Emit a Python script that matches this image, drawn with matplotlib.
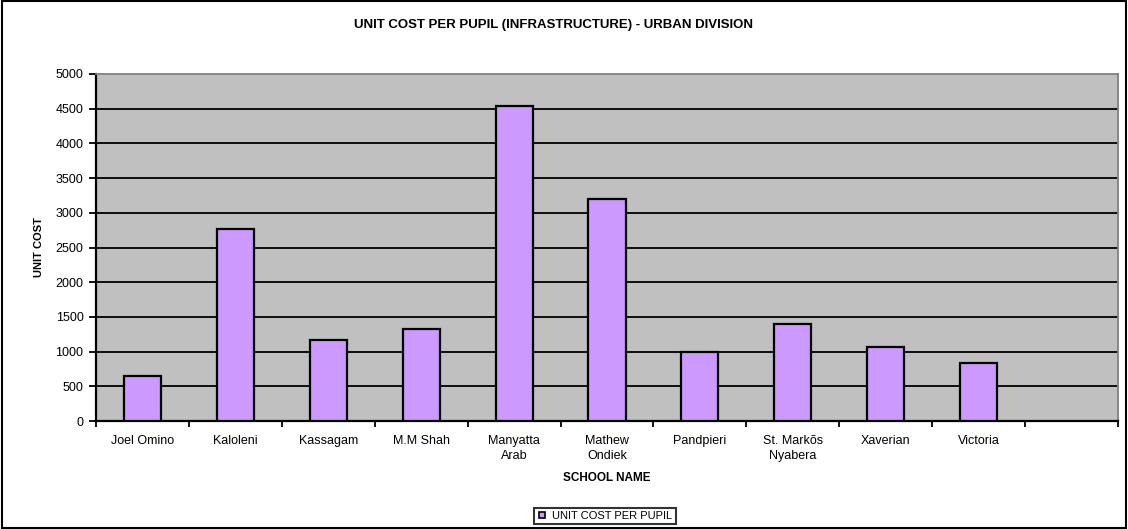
import matplotlib
matplotlib.use("Agg")
import matplotlib.pyplot as plt
import numpy as np
from matplotlib.lines import Line2D
from matplotlib.patches import Rectangle

plt.rcParams["font.family"] = ["Liberation Sans", "DejaVu Sans"]

schools = ["Joel Omino", "Kaloleni", "Kassagam", "M.M Shah", "Manyatta\nArab",
           "Mathew\nOndiek", "Pandpieri", "St. Markõs\nNyabera", "Xaverian",
           "Victoria", ""]
unit_cost = [650, 2760, 1165, 1330, 4540, 3200, 1000, 1400, 1070, 835, np.nan]
y_ticks = [0, 500, 1000, 1500, 2000, 2500, 3000, 3500, 4000, 4500, 5000]

BAR_COLOR = "#CC99FF"
BG_COLOR = "#C0C0C0"

fig = plt.figure(figsize=(11.28, 5.29), dpi=100)
ax = fig.add_axes([96 / 1128, 1 - 421 / 529, 1022 / 1128, 347 / 529])
ax.set_facecolor(BG_COLOR)

x = np.arange(len(schools))
ax.bar(x, unit_cost, width=0.4, color=BAR_COLOR, edgecolor="black",
       linewidth=1.6, zorder=3)

ax.set_xlim(-0.5, len(schools) - 0.5)
ax.set_ylim(0, 5000)
ax.set_yticks(y_ticks)
ax.set_yticklabels([str(v) for v in y_ticks], fontsize=9)
for v in y_ticks[1:-1]:
    ax.axhline(v, color="black", linewidth=1.3, zorder=1)

# category labels centred in each slot, tick marks on the slot edges
ax.set_xticks(x)
ax.set_xticklabels(schools, fontsize=9, linespacing=1.35)
ax.tick_params(axis="x", length=0, pad=10)
ax.set_xticks(np.arange(len(schools) + 1) - 0.5, minor=True)
ax.tick_params(axis="x", which="minor", length=4, width=1.3, direction="out")
ax.tick_params(axis="y", length=5, width=1.3, direction="out", pad=4)

for s in ["left", "bottom"]:
    ax.spines[s].set_linewidth(1.6)
    ax.spines[s].set_color("black")
for s in ["top", "right"]:
    ax.spines[s].set_linewidth(1.3)
    ax.spines[s].set_color("#808080")

ax.set_xlabel("SCHOOL NAME", fontsize=8.5, fontweight="bold", labelpad=7)
ax.set_ylabel("UNIT COST", fontsize=8, fontweight="bold", labelpad=8)

fig.text(553 / 1128, 1 - 25 / 529, "UNIT COST PER PUPIL (INFRASTRUCTURE) - URBAN DIVISION",
         ha="center", va="center", fontsize=9.5, fontweight="bold")

handle = Line2D([], [], marker="s", linestyle="none", markersize=4,
                markerfacecolor=BAR_COLOR, markeredgecolor="black",
                markeredgewidth=1.2)
leg = fig.legend([handle], ["UNIT COST PER PUPIL"], loc="center",
                 bbox_to_anchor=(605 / 1128, 1 - 516 / 529), fontsize=8,
                 frameon=True, fancybox=False, edgecolor="black",
                 handlelength=0.8, handletextpad=0.5, borderpad=0.3,
                 borderaxespad=0)
leg.get_frame().set_linewidth(1.5)

fig.patches.append(Rectangle((0.002, 0.002), 0.996, 0.996, transform=fig.transFigure,
                             fill=False, edgecolor="black", linewidth=1.5))

fig.savefig("out.png", dpi=100)
